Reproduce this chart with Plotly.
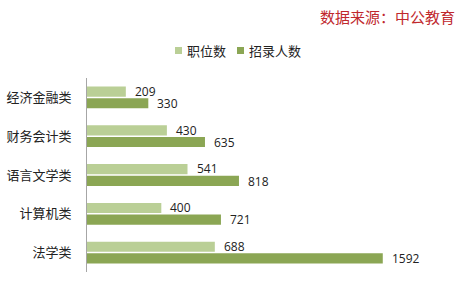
import plotly.graph_objects as go

categories = ["经济金融类", "财务会计类", "语言文学类", "计算机类", "法学类"]
positions = [209, 430, 541, 400, 688]
recruits = [330, 635, 818, 721, 1592]
series_names = ["职位数", "招录人数"]
source_text = "数据来源：中公教育"

light = "#BACF96"
dark = "#8BA654"
num_font = dict(family="Open Sans, DejaVu Sans, sans-serif", size=12, color="#222222")
cjk = "Noto Sans CJK SC, sans-serif"

L, R, T, B, W, H = 87, 26, 78, 15, 466, 287
pw, ph = W - L - R, H - T - B


def px(p):
    return (p - L) / pw


def py(p):
    return (H - B - p) / ph


fig = go.Figure()
fig.add_trace(go.Bar(y=categories, x=positions, orientation="h", name=series_names[0],
                     marker=dict(color=light, line=dict(width=0)), hoverinfo="x+y"))
fig.add_trace(go.Bar(y=categories, x=recruits, orientation="h", name=series_names[1],
                     marker=dict(color=dark, line=dict(width=0)), hoverinfo="x+y"))

# value labels to the right of each bar
for vals, off in ((positions, -0.155), (recruits, 0.155)):
    for i, (c, v) in enumerate(zip(categories, vals)):
        fig.add_annotation(x=v, y=i + off, xref="x", yref="y", text=str(v),
                           showarrow=False, xanchor="left", yanchor="middle",
                           xshift=7, font=num_font)

# source note
fig.add_annotation(x=px(457), y=py(16), xref="paper", yref="paper", text=source_text,
                   showarrow=False, xanchor="right", yanchor="middle",
                   font=dict(family=cjk, size=15, color="#C0282D"))

# legend (manual, compact like the reference)
legend_items = [(series_names[0], light, 175), (series_names[1], dark, 237)]
for name, col, x0 in legend_items:
    fig.add_shape(type="rect", xref="paper", yref="paper",
                  x0=px(x0), x1=px(x0 + 7), y0=py(54), y1=py(47),
                  fillcolor=col, line=dict(width=0))
    fig.add_annotation(x=px(x0 + 10), y=py(50.5), xref="paper", yref="paper", text=name,
                       showarrow=False, xanchor="left", yanchor="middle",
                       font=dict(family=cjk, size=13, color="#222222"))

fig.update_layout(
    width=W, height=H,
    margin=dict(l=L, r=R, t=T, b=B, autoexpand=False),
    paper_bgcolor="white", plot_bgcolor="white",
    barmode="group", bargap=0.4, bargroupgap=0.13,
    showlegend=False,
    xaxis=dict(range=[0, 1900], showgrid=False, zeroline=False, showticklabels=False,
               showline=False, ticks="", automargin=False),
    yaxis=dict(type="category", range=[4.5, -0.5], showgrid=False, zeroline=False,
               showline=True, linecolor="#A6A6A6", linewidth=1, ticks="",
               ticklabelstandoff=12, automargin=False,
               tickfont=dict(family=cjk, size=13, color="#222222")),
)

fig.write_html("out.html")
